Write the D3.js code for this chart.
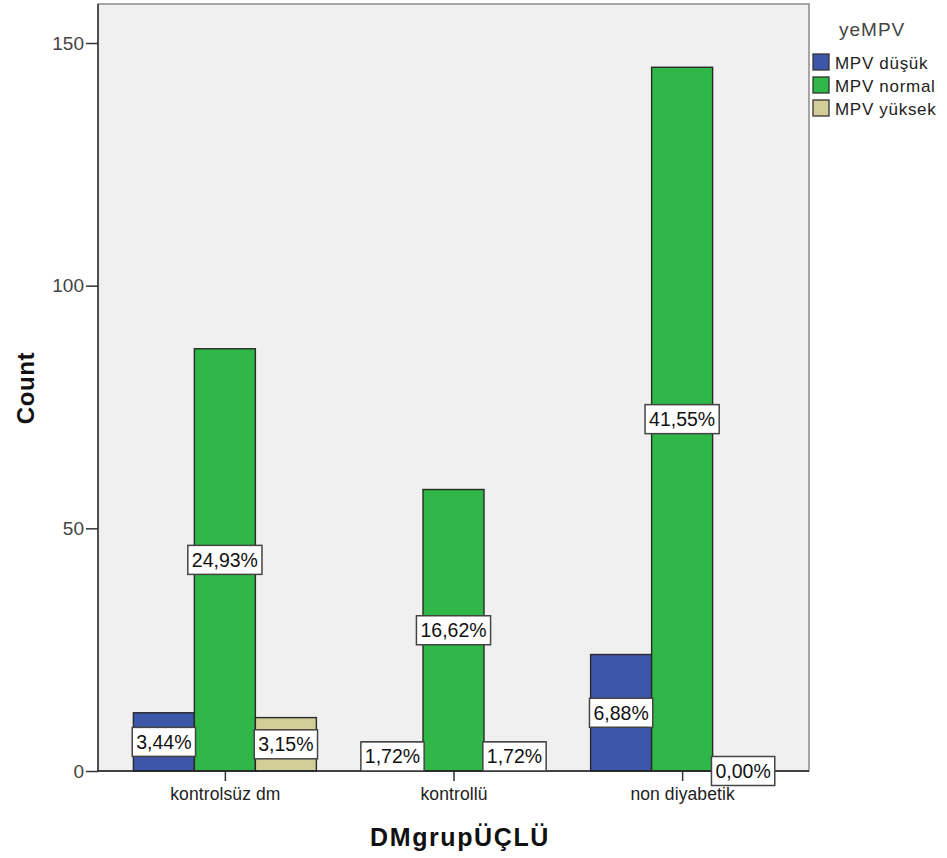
<!DOCTYPE html>
<html><head><meta charset="utf-8">
<script src="https://cdn.jsdelivr.net/npm/d3@7"></script>
<style>body{margin:0;background:#fff}svg{display:block}text{font-family:"Liberation Sans",Arial,sans-serif}</style>
</head><body>
<svg id="c" width="947" height="858"></svg>
<script>
const categories = ["kontrolsüz dm", "kontrollü", "non diyabetik"];
const seriesNames = ["MPV düşük", "MPV normal", "MPV yüksek"];
const seriesColors = ["#3D56AA", "#2FB847", "#D3CD98"];
const dusuk = [12, 6, 24];
const normal = [87, 58, 145];
const yuksek = [11, 6, 0];
const pctLabels = [["3,44%", "24,93%", "3,15%"], ["1,72%", "16,62%", "1,72%"], ["6,88%", "41,55%", "0,00%"]];
const yTicks = [0, 50, 100, 150];

const FONT = "Liberation Sans, Arial, sans-serif";
const svg = d3.select("#c");
const L = 98, R = 809, T = 4, B = 771;
const y = d3.scaleLinear().domain([0, 150]).range([B, 43]);
const x = d3.scalePoint().domain(categories).range([L, R]).padding(0.555);
const sub = d3.scaleBand().domain(seriesNames).range([-91.5, 91.5]);

svg.append("rect").attr("x", L).attr("y", T).attr("width", R - L).attr("height", B - T)
  .attr("fill", "#F0F0F0").attr("stroke", "#8a8a8a").attr("stroke-width", 1.5);

const data = [];
categories.forEach((c, i) => {
  [dusuk, normal, yuksek].forEach((arr, j) => {
    data.push({c, s: seriesNames[j], v: arr[i], color: seriesColors[j], label: pctLabels[i][j]});
  });
});

svg.selectAll(".bar").data(data.filter(d => d.v > 0)).enter().append("rect")
  .attr("x", d => x(d.c) + sub(d.s)).attr("width", sub.bandwidth())
  .attr("y", d => y(d.v)).attr("height", d => y(0) - y(d.v))
  .attr("fill", d => d.color).attr("stroke", "#2a2a2a").attr("stroke-width", 1.4);

// axes
const yAxis = svg.append("g").attr("transform", `translate(${L},0)`)
  .call(d3.axisLeft(y).tickValues(yTicks).tickSize(12).tickPadding(2));
yAxis.select(".domain").remove();
yAxis.selectAll("line").attr("stroke", "#333").attr("stroke-width", 1.5);
yAxis.selectAll("text").attr("font-size", 19).attr("fill", "#444").attr("font-family", FONT);
svg.append("line").attr("x1", L).attr("x2", L).attr("y1", T).attr("y2", B).attr("stroke", "#333").attr("stroke-width", 1.5);

const xAxis = svg.append("g").attr("transform", `translate(0,${B})`)
  .call(d3.axisBottom(x).tickSize(10).tickPadding(7));
xAxis.select(".domain").remove();
xAxis.selectAll("line").attr("stroke", "#333").attr("stroke-width", 1.5);
xAxis.selectAll("text").attr("font-size", 17.5).attr("letter-spacing", 0.1).attr("fill", "#222").attr("font-family", FONT);
svg.append("line").attr("x1", L).attr("x2", R).attr("y1", B).attr("y2", B).attr("stroke", "#222").attr("stroke-width", 1.5);

// labels
const lg = svg.selectAll(".lab").data(data).enter().append("g")
  .attr("transform", d => `translate(${x(d.c) + sub(d.s) + sub.bandwidth() / 2},${(y(0) + y(d.v)) / 2})`);
const lbox = lg.append("rect").attr("fill", "#fff").attr("stroke", "#444").attr("stroke-width", 1.5);
const ltxt = lg.append("text").attr("text-anchor", "middle").attr("dy", "0.36em").attr("font-size", 19.5)
  .attr("fill", "#111").text(d => d.label);
ltxt.each(function(d, i) {
  const w = this.getComputedTextLength();
  d3.select(lbox.nodes()[i]).attr("x", -w / 2 - 4).attr("width", w + 8).attr("y", -14.5).attr("height", 29);
});

// axis titles
svg.append("text").attr("transform", "translate(34,388) rotate(-90)").attr("text-anchor", "middle")
  .attr("font-size", 24).attr("letter-spacing", 0.6).attr("font-weight", "bold").attr("fill", "#111").text("Count");
svg.append("text").attr("x", 460).attr("y", 846).attr("text-anchor", "middle")
  .attr("font-size", 25).attr("letter-spacing", 1.6).attr("font-weight", "bold").attr("fill", "#111").text("DMgrupÜÇLÜ");

// legend
svg.append("text").attr("x", 839).attr("y", 36).attr("font-size", 19).attr("letter-spacing", 1).attr("fill", "#444").text("yeMPV");
const leg = svg.selectAll(".leg").data(seriesNames).enter().append("g")
  .attr("transform", (d, i) => `translate(813,${54 + i * 23})`);
leg.append("rect").attr("width", 16).attr("height", 16).attr("fill", (d, i) => seriesColors[i])
  .attr("stroke", "#333").attr("stroke-width", 1.3);
leg.append("text").attr("x", 22).attr("y", 15).attr("font-size", 17).attr("letter-spacing", 0.7).attr("fill", "#222").text(d => d);
</script>
</body></html>
